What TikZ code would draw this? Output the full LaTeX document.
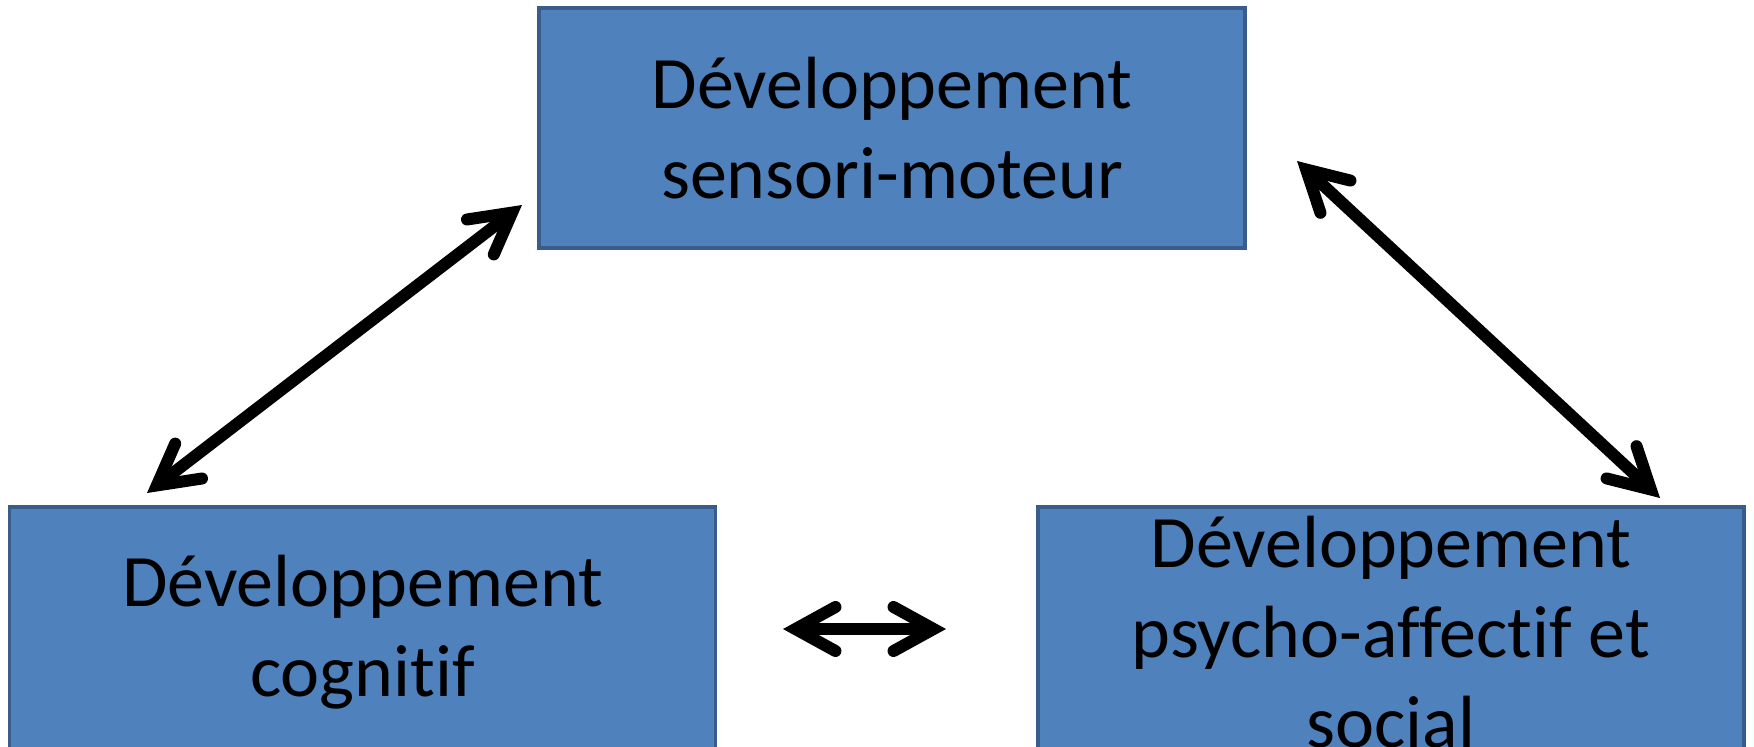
\documentclass[tikz,border=0pt]{standalone}
\usepackage{fontspec}
\setmainfont{Carlito}[Ligatures=NoCommon]
\usetikzlibrary{arrows.meta}
\definecolor{boxfill}{HTML}{4F81BD}
\definecolor{boxline}{HTML}{385D8A}
\tikzset{
  devbox/.style={draw=boxline, fill=boxfill, line width=3.5pt, minimum width=706pt, minimum height=240pt, inner sep=0pt, align=center, font=\fontsize{74}{90}\selectfont, text=black},
  barb/.tip={Straight Barb[length=40pt, width=44pt, line cap=round, line join=miter]},
  dblarrow/.style={line width=12pt, black, barb-barb}
}
\begin{document}
\begin{tikzpicture}[x=1pt,y=-1pt]
\useasboundingbox (0,0) rectangle (1754,747);
\node[devbox] (top) at (892,128) {Développement\\sensori-moteur};
\node[devbox, minimum height=250pt] (cog) at (362.5,632) {Développement\\cognitif};
\node[devbox, minimum height=250pt] (psy) at (1391,632) {Développement\\psycho-affectif et\\social};
\coordinate (l1) at (147,493);
\coordinate (l2) at (522,205);
\coordinate (r1) at (1297,161);
\coordinate (r2) at (1660,498);
\coordinate (h1) at (783,629);
\coordinate (h2) at (946,629);
\draw[dblarrow] (l1) -- (l2);
\draw[dblarrow] (r1) -- (r2);
\draw[dblarrow] (h1) -- (h2);
\end{tikzpicture}
\end{document}
